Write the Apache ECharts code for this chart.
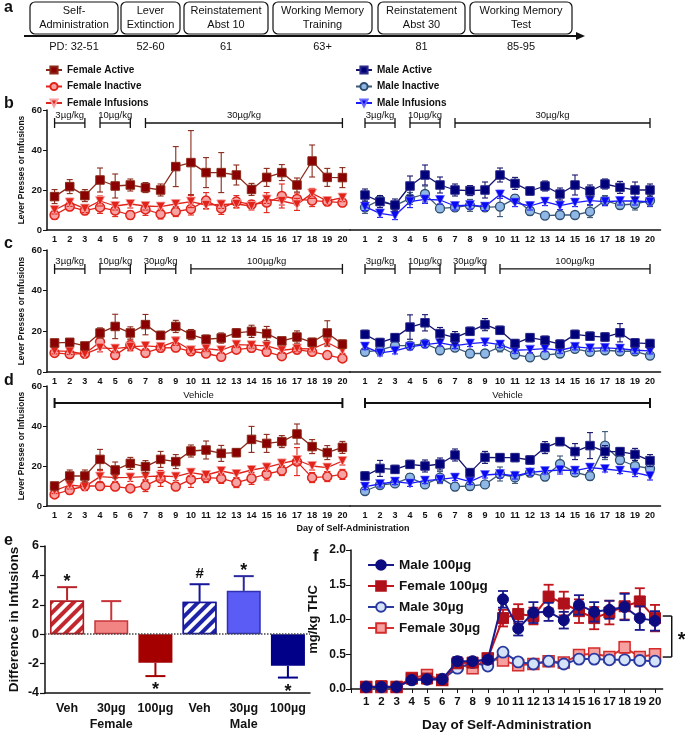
<!DOCTYPE html>
<html><head><meta charset="utf-8">
<script src="https://cdn.jsdelivr.net/npm/echarts@6/dist/echarts.min.js"></script>
<style>html,body{margin:0;padding:0;background:#fff}#c{width:685px;height:733px}</style>
</head><body><div id="c"></div><script>
// ---------- data ----------
const days = [1,2,3,4,5,6,7,8,9,10,11,12,13,14,15,16,17,18,19,20];
const dayLabels = ['1','2','3','4','5','6','7','8','9','10','11','12','13','14','15','16','17','18','19','20'];

// panel b
const bFemActive    = [16.7,21.7,17.2,25,22,22.5,21.2,20,31.7,33.7,28.7,28.7,27.5,20.3,26.3,28.7,22.5,34.5,26.3,26.2];
const bFemActiveErr = [3.5,3.5,3,6,6,3,2.5,3,10,16,7.5,10,5,3,4.5,4,3.5,8,4.5,5];
const bFemInactive    = [7.5,11.7,9.7,11.3,9.7,7.5,10.3,8,9.2,10.5,14.7,10.8,14.2,12.8,13.7,17,15.5,14.7,14.2,13.7];
const bFemInactiveErr = [2,2,2,3,3,2,3,2.5,2.5,3,4,3,3,2,5,6,3,3,2,2];
const bFemInf    = [10,13.8,10.7,14.5,12,13,12,11.7,13,14.2,12.5,12.8,13,12,15.3,14.5,12.8,18.3,14.5,16.2];
const bFemInfErr = [2,2,2,2.5,2,2,2,2,2,3,2,2,2,2,2,2,3,2.5,2,2];
const bMaleActive    = [17.5,14.2,12.5,22,27.5,22.5,20,19.7,20,27.5,23.3,19.5,22,18,22.5,19.5,23,21.3,20,20];
const bMaleActiveErr = [3,3,3,5,5,4,3,2.5,4,3.5,3,2,2.5,3,5,3,2.5,3,4,3];
const bMaleInactive    = [11.3,15,12.2,15.8,18,10.8,11.3,12.3,11.3,11.7,15.7,9.5,7.2,7.5,7.5,9.2,14.7,12.5,13,14.7];
const bMaleInactiveErr = [3,2,2,3,4,2,2,3,2,5,2,2,1.5,1.5,1,3,2.5,2,3,3];
const bMaleInf    = [11.7,8.3,7.2,14.2,15.3,15,12,12.5,11.7,17.8,13.7,12,14.2,12.2,13.7,14.7,14.2,14.5,14.5,14];
const bMaleInfErr = [2,2,2,3,2,2,2,2,2,2,2,2,2,2,2,2,2,2,2,2];

// panel c
const cFemActive    = [14.3,14.6,12.8,19.2,22.4,19.2,23.3,18,22.4,18.4,16.1,16.7,19.2,20,18.9,15.3,17.2,14.6,19.2,13.7];
const cFemActiveErr = [1.5,1.5,1.5,2.5,6,3,5,2,3,2.5,2,2.5,2,3,3.5,1.5,3,2,6,2];
const cFemInactive    = [9.4,8.8,9.0,14.8,8.3,13.2,9.4,11.9,12,10.2,9.1,7.5,11,11.9,9.9,7.8,11,9.9,8.3,6.7];
const cFemInactiveErr = [1.5,1.5,1.5,2,2,2.5,2,2,2,1.5,1.5,1.5,1.5,2,2,1.5,2,1.5,1.5,1.5];
const cFemInf    = [10.4,10.1,8.8,11.9,11.5,12.4,12.8,12.4,15.1,10.7,11.5,10.7,13.5,13.2,12.8,10.7,11.5,11.4,14.5,10.7];
const cFemInfErr = [1.5,1.5,1.5,2,2,2,2,1.5,2,1.5,1.5,1.5,1.5,1.5,1.5,1.5,1.5,1.5,2,1.5];
const cMaleActive    = [18.5,14.5,16.9,22.1,24.2,18.9,16.9,20,23.3,20.5,14,16.9,15.6,13.7,18.5,17.6,17.2,19.3,14.3,14];
const cMaleActiveErr = [2,2,2,6,4,3,3,2,3,2,2,2,2,2,2,2,2,4.5,2,2];
const cMaleInactive    = [9.9,10.7,13,13,14,10.7,12,9.1,9.1,12.4,8.6,7.2,8.3,9.1,11.4,9.9,10.7,10.2,10.2,8.1];
const cMaleInactiveErr = [1.5,1.5,1.5,1.5,1.5,1.5,1.5,1.5,1.5,2.5,1.5,1.5,1.5,1.5,1.5,1.5,1.5,1.5,1.5,1.5];
const cMaleInf    = [12.5,9.4,10.4,12.4,13.5,14.3,13,14,14.6,13.5,10.7,11,11.5,10.7,12.4,11.7,11.9,11.5,10.7,10.4];
const cMaleInfErr = [1.5,1.5,1.5,1.5,1.5,1.5,1.5,1.5,1.5,1.5,1.5,1.5,1.5,1.5,1.5,1.5,1.5,1.5,1.5,1.5];

// panel d
const dFemActive    = [10,15,15,23.3,18,21.3,19.7,23.3,22.2,27.5,28,26.3,26.7,33.3,31.3,32.2,36,29.7,26.7,29.3];
const dFemActiveErr = [1.5,3,3,5,4,3,3,4,3.5,3,4.5,4,2,6.5,4.5,3,5,3.5,3.5,3];
const dFemInactive    = [5.8,8,10,10,9.7,8.8,10.2,13.8,9.7,13.3,14.2,13.8,11.7,13.8,16,17.7,22.2,14.2,14.7,15.8];
const dFemInactiveErr = [1.5,2,2,2,2,1.5,3,4,2,4,2.5,2.5,2.5,3,3,2.5,7,2.5,2.5,2.5];
const dFemInf    = [7.7,10.5,9.7,14.7,14.2,14.3,14.7,15,14.7,16.7,15.5,17.5,16,18,19.3,21.3,23,20,19.2,22.5];
const dFemInfErr = [1.5,2,2,3,2,2,2,2,2,2,2,2,2,2,2,2,2,2,2,2];
const dMaleActive    = [15,18.8,18.3,20.8,20,21,25.5,16.7,24.3,24.2,24.2,23,29.2,32.2,27.2,30.2,27.2,27.2,25.8,22.7];
const dMaleActiveErr = [2,4,2,2,3,3,3,2,3,2,2,2,3,2,4,6.5,3,2,3,3];
const dMaleInactive    = [7.5,10.5,11.3,14.2,10.8,14.2,9.7,10,10.8,16,14.3,16.7,14.7,21,16.8,15,30.2,23,20,18.8];
const dMaleInactiveErr = [1.5,1.5,1.5,2,1.5,3,2,2,1.5,3.5,3,2,2,4,2,2,7,2,4,3];
const dMaleInf    = [9.7,11,12.2,11.3,12.7,13.3,14.2,12.2,15.5,16,15,16.8,17.5,18,17.7,19.2,18.5,17.7,16.7,15];
const dMaleInfErr = [1.5,1.5,1.5,1.5,1.5,1.5,1.5,1.5,1.5,2,1.5,1.5,1.5,2,1.5,1.5,1.5,1.5,2,2];

// dose brackets [fromDay, toDay, label]
const bDoses = [[1,3,'3µg/kg'],[4,6,'10µg/kg'],[7,20,'30µg/kg']];
const cDoses = [[1,3,'3µg/kg'],[4,6,'10µg/kg'],[7,9,'30µg/kg'],[10,20,'100µg/kg']];
const dDoses = [[1,20,'Vehicle']];

// panel e
const eCategories = ['Female Veh','Female 30µg','Female 100µg','Male Veh','Male 30µg','Male 100µg'];
const eTickLabels = ['Veh','30µg\nFemale','100µg','Veh','30µg\nMale','100µg'];
const eValues = [2.3,0.95,-1.95,2.2,2.95,-2.15];
const eErr    = [0.9,1.3,0.9,1.2,1.0,0.8];
const eSig    = ['*','','*','#','*','*'];

// panel f
const fMale100    = [0.03,0.03,0.03,0.13,0.14,0.14,0.40,0.40,0.42,1.29,0.87,1.10,1.11,0.99,1.21,1.11,1.14,1.18,1.02,0.98];
const fMale100Err = [0.01,0.01,0.01,0.03,0.03,0.03,0.06,0.04,0.05,0.12,0.10,0.15,0.13,0.12,0.14,0.14,0.13,0.19,0.17,0.14];
const fFem100     = [0.03,0.04,0.03,0.15,0.15,0.13,0.37,0.38,0.44,1.02,1.08,1.05,1.33,1.23,1.12,1.02,1.10,1.19,1.26,1.02];
const fFem100Err  = [0.01,0.01,0.01,0.03,0.04,0.03,0.05,0.04,0.06,0.12,0.14,0.12,0.17,0.17,0.17,0.16,0.17,0.19,0.19,0.19];
const fMale30     = [0.03,0.03,0.03,0.13,0.14,0.14,0.30,0.38,0.33,0.53,0.39,0.36,0.40,0.36,0.43,0.43,0.42,0.42,0.41,0.40];
const fMale30Err  = [0.01,0.01,0.01,0.02,0.03,0.02,0.04,0.03,0.04,0.04,0.03,0.03,0.03,0.03,0.03,0.03,0.03,0.03,0.03,0.03];
const fFem30      = [0.03,0.03,0.03,0.16,0.20,0.13,0.36,0.30,0.44,0.41,0.34,0.36,0.40,0.38,0.49,0.51,0.46,0.60,0.46,0.50];
const fFem30Err   = [0.01,0.01,0.01,0.03,0.04,0.03,0.04,0.04,0.05,0.05,0.04,0.04,0.03,0.03,0.04,0.04,0.04,0.08,0.04,0.04];
const fBracket = [1.05, 0.46];

// panel a timeline
const stages = [['Self-','Administration'],['Lever','Extinction'],['Reinstatement','Abst 10'],['Working Memory','Training'],['Reinstatement','Abst 30'],['Working Memory','Test']];
const pdLabels = ['PD: 32-51','52-60','61','63+','81','85-95'];

// ---------- chart ----------
const FONT = '"Liberation Sans", Arial, sans-serif';
const chart = echarts.init(document.getElementById('c'));

const ST = {
  'Female Active':    {symbol:'rect', size:8.5, fill:'#8b0000', border:'#8b2a1a', bw:1, line:'#8b2a1a'},
  'Female Inactive':  {symbol:'circle', size:9, fill:'#f6a3a3', border:'#e2231a', bw:1.5, line:'#e2231a'},
  'Female Infusions': {symbol:'triangle', rot:180, size:9, fill:'#e2231a', border:'#f6a3a3', bw:0.8, line:'#e2231a'},
  'Male Active':      {symbol:'rect', size:8.5, fill:'#00007a', border:'#2a2a8a', bw:1, line:'#14146e'},
  'Male Inactive':    {symbol:'circle', size:9, fill:'#8fb8e6', border:'#2f4d6e', bw:1.3, line:'#3b5877'},
  'Male Infusions':   {symbol:'triangle', rot:180, size:9, fill:'#0a0af0', border:'#6a6aff', bw:0.6, line:'#1a1aff'}
};

const grids = [];
const xAxes = [];
const yAxes = [];
const series = [];

function axisLabelStyle(size){ return {fontFamily:FONT, fontWeight:'bold', fontSize:size, color:'#111'}; }

function addRow(top, height){
  const gl = grids.length;
  grids.push({left:47, top:top, width:303, height:height});
  grids.push({left:350, top:top, width:310.5, height:height});
  xAxes.push({gridIndex:gl, type:'category', data:dayLabels, boundaryGap:true,
    axisLine:{lineStyle:{color:'#111', width:1.5}}, axisTick:{alignWithLabel:true, length:3, lineStyle:{color:'#111'}},
    axisLabel:Object.assign({interval:0, margin:5}, axisLabelStyle(9))});
  xAxes.push({gridIndex:gl+1, type:'value', min:0, max:20.7, interval:1,
    axisLine:{lineStyle:{color:'#111', width:1.5}}, axisTick:{show:false}, splitLine:{show:false},
    axisLabel:Object.assign({margin:5, showMaxLabel:false, showMinLabel:false, formatter:v=>(v>=1&&v<=20&&Number.isInteger(v))?String(v):''}, axisLabelStyle(9))});
  yAxes.push({gridIndex:gl, type:'value', min:0, max:60, interval:20,
    name:'Lever Presses or Infusions', nameLocation:'middle', nameGap:21, nameRotate:90,
    nameTextStyle:{fontFamily:FONT, fontWeight:'bold', fontSize:8.5, color:'#111'},
    axisLine:{show:true, lineStyle:{color:'#111', width:1.5}}, axisTick:{show:true, length:4, lineStyle:{color:'#111'}},
    splitLine:{show:false}, axisLabel:Object.assign({margin:5}, axisLabelStyle(9.5))});
  yAxes.push({gridIndex:gl+1, type:'value', min:0, max:60, interval:20, show:false, splitLine:{show:false}});
  return gl;
}

function errRender(color, cap, lw){
  return function(params, api){
    const x = api.value(0), v = api.value(1), e = api.value(2);
    const t = api.coord([x, v+e]), b = api.coord([x, v-e]);
    const st = {stroke:color, lineWidth:lw};
    return {type:'group', children:[
      {type:'line', shape:{x1:t[0],y1:t[1],x2:b[0],y2:b[1]}, style:st},
      {type:'line', shape:{x1:t[0]-cap,y1:t[1],x2:t[0]+cap,y2:t[1]}, style:st},
      {type:'line', shape:{x1:b[0]-cap,y1:b[1],x2:b[0]+cap,y2:b[1]}, style:st}
    ]};
  };
}

function addSet(gi, isLeft, name, vals, errs, z){
  const s = ST[name];
  const lineData = isLeft ? vals.slice() : vals.map((v,i)=>[days[i], v]);
  const errData = vals.map((v,i)=>[isLeft ? i : days[i], v, errs[i]]);
  series.push({type:'custom', xAxisIndex:gi, yAxisIndex:gi, data:errData, encode:{x:0,y:1},
    renderItem:errRender(s.line, 3, 1.1), z:z, silent:true});
  series.push({type:'line', name:name, xAxisIndex:gi, yAxisIndex:gi, data:lineData,
    symbol:s.symbol, symbolSize:s.size, symbolRotate:s.rot||0, showAllSymbol:true,
    itemStyle:{color:s.fill, borderColor:s.border, borderWidth:s.bw},
    lineStyle:{color:s.line, width:1.3}, z:z+1});
}

function addPanel(top, height, sets){
  const gl = addRow(top, height);
  sets.forEach((st, k)=>{
    const isLeft = st[0].startsWith('Female');
    addSet(isLeft ? gl : gl+1, isLeft, st[0], st[1], st[2], 10 + (3 - (k%3))*2);
  });
  return gl;
}

const gb = addPanel(110, 120, [
  ['Female Active', bFemActive, bFemActiveErr], ['Female Infusions', bFemInf, bFemInfErr], ['Female Inactive', bFemInactive, bFemInactiveErr],
  ['Male Active', bMaleActive, bMaleActiveErr], ['Male Infusions', bMaleInf, bMaleInfErr], ['Male Inactive', bMaleInactive, bMaleInactiveErr]]);
const gc = addPanel(250, 122, [
  ['Female Active', cFemActive, cFemActiveErr], ['Female Infusions', cFemInf, cFemInfErr], ['Female Inactive', cFemInactive, cFemInactiveErr],
  ['Male Active', cMaleActive, cMaleActiveErr], ['Male Infusions', cMaleInf, cMaleInfErr], ['Male Inactive', cMaleInactive, cMaleInactiveErr]]);
const gd = addPanel(386, 120, [
  ['Female Active', dFemActive, dFemActiveErr], ['Female Infusions', dFemInf, dFemInfErr], ['Female Inactive', dFemInactive, dFemInactiveErr],
  ['Male Active', dMaleActive, dMaleActiveErr], ['Male Infusions', dMaleInf, dMaleInfErr], ['Male Inactive', dMaleInactive, dMaleInactiveErr]]);

// ---- panel e ----
const ge = grids.length;
grids.push({left:45, top:546, width:265, height:149});
xAxes.push({gridIndex:ge, type:'category', data:eCategories,
  axisLine:{onZero:false, lineStyle:{color:'#111', width:1.5}}, axisTick:{alignWithLabel:true, length:6, lineStyle:{color:'#111', width:1.2}},
  axisLabel:Object.assign({interval:0, margin:8, lineHeight:16, formatter:(v,i)=>eTickLabels[i]}, axisLabelStyle(12.5))});
yAxes.push({gridIndex:ge, type:'value', min:-4, max:6, interval:2,
  name:'Difference in Infusions', nameLocation:'middle', nameGap:24, nameRotate:90,
  nameTextStyle:{fontFamily:FONT, fontWeight:'bold', fontSize:13.5, color:'#111'},
  axisLine:{show:true, lineStyle:{color:'#111', width:1.5}}, axisTick:{show:true, length:5, lineStyle:{color:'#111', width:1.2}},
  splitLine:{show:false}, axisLabel:Object.assign({margin:6}, axisLabelStyle(12.5))});

const eStyles = [
  {color:'#c1272d', border:'#b01e24', decal:true, err:'#b8242a'},
  {color:'#f38484', border:'#c8343a', err:'#c8343a'},
  {color:'#a50000', border:'#a50000', err:'#a50000'},
  {color:'#1e24a8', border:'#16169a', decal:true, err:'#16169a'},
  {color:'#5b5bf5', border:'#3030b0', err:'#2a2aa0'},
  {color:'#000088', border:'#000088', err:'#000088'}
];
series.push({type:'bar', xAxisIndex:ge, yAxisIndex:ge, barWidth:34,
  data:eValues.map((v,i)=>{
    const it = {color:eStyles[i].color, borderColor:eStyles[i].border, borderWidth:1.5};
    if (eStyles[i].decal) it.decal = {symbol:'rect', symbolSize:1, dashArrayX:[1,0], dashArrayY:[3.5,3.5], rotation:-Math.PI/4, color:'#ffffff'};
    return {value:v, itemStyle:it};
  }),
  markLine:{silent:true, symbol:'none', label:{show:false}, lineStyle:{color:'#444', type:'dotted', width:1.5}, data:[{yAxis:0}]},
  z:3});
series.push({type:'custom', xAxisIndex:ge, yAxisIndex:ge, z:2,
  data:eValues.map((v,i)=>[i, v, eErr[i], i]), encode:{x:0,y:1},
  renderItem:function(params, api){
    const i = api.value(3), v = api.value(1), e = api.value(2);
    const sgn = v >= 0 ? 1 : -1;
    const p0 = api.coord([i, v]), p1 = api.coord([i, v + sgn*e]);
    const col = eStyles[i].err;
    const st = {stroke:col, lineWidth:2};
    const ch = [
      {type:'line', shape:{x1:p0[0],y1:p0[1],x2:p1[0],y2:p1[1]}, style:st},
      {type:'line', shape:{x1:p1[0]-10,y1:p1[1],x2:p1[0]+10,y2:p1[1]}, style:st}
    ];
    const s = eSig[i];
    if (s) {
      const big = s === '*';
      ch.push({type:'text', style:{text:s, x:p1[0], y: sgn>0 ? p1[1]-(big?5:10) : p1[1]+(big?14:10),
        textAlign:'center', textVerticalAlign:'middle', fontFamily:FONT, fontWeight:'bold', fontSize: big?18:15, fill:'#111'}});
    }
    return {type:'group', children:ch};
  }});

// ---- panel f ----
const gf = grids.length;
grids.push({left:351, top:550, width:311.6, height:145});
xAxes.push({gridIndex:gf, type:'value', min:0, max:20.5, interval:1,
  name:'Day of Self-Administration', nameLocation:'middle', nameGap:29,
  nameTextStyle:{fontFamily:FONT, fontWeight:'bold', fontSize:13.5, color:'#111'},
  axisLine:{onZero:false, lineStyle:{color:'#111', width:1.5}}, axisTick:{length:4, lineStyle:{color:'#111'}}, splitLine:{show:false},
  axisLabel:Object.assign({margin:7, showMaxLabel:false, formatter:v=>(v>=1&&v<=20&&Number.isInteger(v))?String(v):''}, axisLabelStyle(11.5))});
yAxes.push({gridIndex:gf, type:'value', min:0, max:2, interval:0.5,
  name:'mg/kg THC', nameLocation:'middle', nameGap:31, nameRotate:90,
  nameTextStyle:{fontFamily:FONT, fontWeight:'bold', fontSize:13, color:'#111'},
  axisLine:{show:true, lineStyle:{color:'#111', width:1.5}}, axisTick:{show:true, length:5, lineStyle:{color:'#111'}},
  splitLine:{show:false}, axisLabel:Object.assign({margin:5, formatter:v=>v.toFixed(1)}, axisLabelStyle(12))});

const FST = {
  'Female 30µg':  {symbol:'rect', fill:'#f6a0a0', border:'#d42b2b', bw:1.5, line:'#d43030'},
  'Male 30µg':    {symbol:'circle', fill:'#d4e3f7', border:'#2a39a0', bw:1.8, line:'#2a39a0'},
  'Female 100µg': {symbol:'rect', fill:'#b0101a', border:'#b0101a', bw:1, line:'#c0161e'},
  'Male 100µg':   {symbol:'circle', fill:'#0c0c80', border:'#0c0c80', bw:1, line:'#1a1a8c'}
};
[['Female 30µg', fFem30, fFem30Err], ['Male 30µg', fMale30, fMale30Err], ['Female 100µg', fFem100, fFem100Err], ['Male 100µg', fMale100, fMale100Err]]
.forEach((st, k)=>{
  const s = FST[st[0]];
  series.push({type:'custom', xAxisIndex:gf, yAxisIndex:gf, z:20+k*2, silent:true,
    data:st[1].map((v,i)=>[days[i], v, st[2][i]]), encode:{x:0,y:1}, renderItem:errRender(s.line, 5, 1.8)});
  series.push({type:'line', name:st[0], xAxisIndex:gf, yAxisIndex:gf, z:21+k*2,
    data:st[1].map((v,i)=>[days[i], v]), symbol:s.symbol, symbolSize:11, showAllSymbol:true,
    itemStyle:{color:s.fill, borderColor:s.border, borderWidth:s.bw}, lineStyle:{color:s.line, width:2}});
});

const legendText = {fontFamily:FONT, fontWeight:'bold', fontSize:10, color:'#111'};
const option = {
  animation:false,
  backgroundColor:'#fff',
  grid:grids, xAxis:xAxes, yAxis:yAxes, series:series,
  legend:[
    {left:40, top:60, orient:'vertical', itemGap:6.5, itemWidth:16, itemHeight:9, textStyle:legendText, selectedMode:false,
      data:['Female Active','Female Inactive','Female Infusions']},
    {left:350, top:60, orient:'vertical', itemGap:6.5, itemWidth:16, itemHeight:9, textStyle:legendText, selectedMode:false,
      data:['Male Active','Male Inactive','Male Infusions']},
    {left:362, top:553, orient:'vertical', itemGap:7, itemWidth:26, itemHeight:12, selectedMode:false,
      textStyle:{fontFamily:FONT, fontWeight:'bold', fontSize:13.5, color:'#111'},
      data:['Male 100µg','Female 100µg','Male 30µg','Female 30µg']}
  ]
};
chart.setOption(option);

// ---------- annotations (positioned via axis scales) ----------
const g = [];
function txt(x, y, s, opt){ g.push({type:'text', silent:true, style:Object.assign({text:s, x:x, y:y, fill:'#111', fontFamily:FONT}, opt||{})}); }
function seg(x1,y1,x2,y2,w){ g.push({type:'line', silent:true, shape:{x1:x1,y1:y1,x2:x2,y2:y2}, style:{stroke:'#111', lineWidth:w||1.3}}); }

function brackets(gi, isCat, doses, yVal, lw){
  doses.forEach(d=>{
    const a = chart.convertToPixel({gridIndex:gi}, [isCat ? d[0]-1 : d[0], yVal]);
    const b = chart.convertToPixel({gridIndex:gi}, [isCat ? d[1]-1 : d[1], yVal]);
    seg(a[0], a[1], b[0], b[1], lw);
    seg(a[0], a[1]-5, a[0], a[1]+5, lw);
    seg(b[0], b[1]-5, b[0], b[1]+5, lw);
    txt((a[0]+b[0])/2, a[1]-8, d[2], {textAlign:'center', textVerticalAlign:'middle', fontSize:9.5});
  });
}
brackets(gb, true, bDoses, 53.5, 1.3);
brackets(gb+1, false, bDoses, 53.5, 1.3);
brackets(gc, true, cDoses, 50.7, 1.3);
brackets(gc+1, false, cDoses, 50.7, 1.3);
brackets(gd, true, dDoses, 51.5, 2);
brackets(gd+1, false, dDoses, 51.5, 2);

txt(353, 529, 'Day of Self-Administration', {textAlign:'center', textVerticalAlign:'middle', fontSize:9, fontWeight:'bold'});

{
  const top = chart.convertToPixel({gridIndex:gf}, [21.1, fBracket[0]]);
  const bot = chart.convertToPixel({gridIndex:gf}, [21.1, fBracket[1]]);
  seg(top[0], top[1], top[0], bot[1], 1.5);
  seg(top[0]-9, top[1], top[0], top[1], 1.5);
  seg(top[0]-9, bot[1], top[0], bot[1], 1.5);
  txt(top[0]+10, (top[1]+bot[1])/2+4, '*', {textAlign:'center', textVerticalAlign:'middle', fontSize:20, fontWeight:'bold'});
}

[['a',4,8],['b',4,104],['c',4,244],['d',4,381],['e',4,541],['f',313,557]].forEach(l=>{
  txt(l[1], l[2], l[0], {textVerticalAlign:'middle', fontSize:16, fontWeight:'bold'});
});

const boxX = [[30,118],[121,180],[184,268],[273,372],[378,465],[470,572]];
const NARROW = '"Liberation Sans Narrow", "Liberation Sans", Arial';
g.push({type:'line', silent:true, shape:{x1:24,y1:36,x2:576,y2:36}, style:{stroke:'#111', lineWidth:2.2}});
g.push({type:'polygon', silent:true, shape:{points:[[576,32],[585,36],[576,40]]}, style:{fill:'#111'}});
stages.forEach((s,i)=>{
  const x0 = boxX[i][0], x1 = boxX[i][1];
  g.push({type:'rect', silent:true, shape:{x:x0, y:2, width:x1-x0, height:32, r:5}, style:{fill:'#fff', stroke:'#111', lineWidth:1.2}});
  txt((x0+x1)/2, 11, s[0], {textAlign:'center', textVerticalAlign:'middle', fontSize:11, fontFamily:NARROW});
  txt((x0+x1)/2, 25, s[1], {textAlign:'center', textVerticalAlign:'middle', fontSize:11, fontFamily:NARROW});
  txt((x0+x1)/2, 47, pdLabels[i], {textAlign:'center', textVerticalAlign:'middle', fontSize:11, fontFamily:NARROW});
});

chart.setOption({graphic:g});
</script></body></html>
